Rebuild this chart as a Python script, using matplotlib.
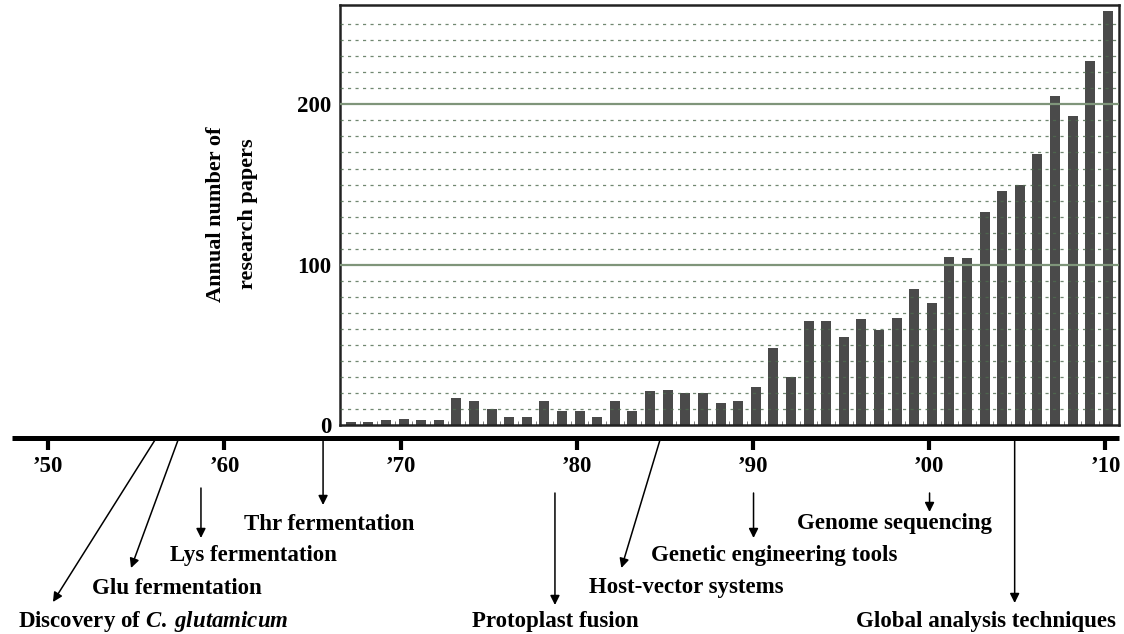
import matplotlib.pyplot as plt

plt.rcParams['font.family'] = ['Liberation Serif', 'DejaVu Serif']
plt.rcParams['font.weight'] = 'bold'
plt.rcParams['mathtext.fontset'] = 'custom'
plt.rcParams['mathtext.it'] = 'Liberation Serif:italic:bold'
plt.rcParams['mathtext.rm'] = 'Liberation Serif:bold'

# annual paper counts
years = list(range(1967, 2011))
papers = [2, 2, 3, 4, 3, 3, 17, 15, 10, 5, 5, 15, 9, 9, 5, 15, 9, 21, 22, 20,
          20, 14, 15, 24, 48, 30, 65, 65, 55, 66, 59, 67, 85, 76, 105, 104,
          133, 146, 150, 169, 205, 193, 227, 258]

decades = [1950, 1960, 1970, 1980, 1990, 2000, 2010]
decade_labels = ['\u201950', '\u201960', '\u201970', '\u201980', '\u201990',
                 '\u201900', '\u201910']

events = ['Discovery of $\\mathit{C.\\;glutamicum}$', 'Glu fermentation',
          'Lys fermentation', 'Thr fermentation', 'Protoplast fusion',
          'Host-vector systems', 'Genetic engineering tools',
          'Genome sequencing', 'Global analysis techniques']
event_years = [1956.06, 1957.37, 1958.67, 1965.6, 1978.76, 1984.72, 1990.03,
               2000.02, 2004.85]

# layout (timeline axes: x in years, y in pixels from top)
arrow_y0 = [440, 440, 488, 440, 493, 440, 493, 493, 440]
arrow_x1 = [1950.27, 1954.7, 1958.67, 1965.6, 1978.76, 1982.53, 1990.03,
            2000.02, 2004.85]
arrow_y1 = [602, 568, 538, 505, 605, 568, 538, 512, 603]
label_x = [1955.98, 1957.28, 1961.65, 1965.94, 1978.76, 1986.2, 1991.18,
           1998.02, 2003.2]
label_y = [621, 588, 555, 524, 621, 588, 555, 524, 621]


def main():
    fig = plt.figure(figsize=(11.24, 6.34), dpi=100)

    ax_t = fig.add_axes([0, 0, 1, 1])
    ax_t.set_xlim(1947.265, 2011.055)
    ax_t.set_ylim(634, 0)
    ax_t.axis('off')

    ax_t.plot([1947.95, 2010.75], [438, 438], color='black', lw=3.6,
              solid_capstyle='butt')
    for yr, lab in zip(decades, decade_labels):
        ax_t.plot([yr, yr], [438, 450], color='black', lw=3,
                  solid_capstyle='butt')
        ax_t.text(yr, 466, lab, ha='center', va='center', fontsize=16.5)

    for i, ev in enumerate(events):
        ax_t.annotate('', xy=(arrow_x1[i], arrow_y1[i]),
                      xytext=(event_years[i], arrow_y0[i]),
                      arrowprops=dict(arrowstyle='-|>', color='black', lw=1.1,
                                      mutation_scale=14, shrinkA=0, shrinkB=0))
        ax_t.text(label_x[i], label_y[i], ev, ha='center', va='center',
                  fontsize=16.5)

    ax = fig.add_axes([340 / 1124, 1 - 425 / 634, 779 / 1124, 420 / 634])
    ax.bar(years, papers, width=0.57, color='#4a4a4a', zorder=2)
    ax.set_xlim(1966.39, 2010.63)
    ax.set_ylim(0, 262)

    for v in range(10, 260, 10):
        if v % 100 == 0:
            ax.axhline(v, color='#7f957a', lw=1.6, zorder=3)
        else:
            ax.axhline(v, color='#4e6b4e', lw=0.9, dashes=(2.5, 3.5),
                       alpha=0.8, zorder=3)

    ax.set_yticks([0, 100, 200])
    ax.set_yticklabels(['0', '100', '200'], fontsize=16.5)
    ax.tick_params(axis='y', length=0, pad=6)
    ax.set_xticks([])
    ax.set_xticks([y + 0.5 for y in years[:-1]], minor=True)
    ax.tick_params(axis='x', which='minor', direction='in', length=3,
                   color='#666666')
    for sp in ax.spines.values():
        sp.set_linewidth(1.8)
        sp.set_color('#222222')

    fig.text(232 / 1124, 1 - 214 / 634, 'Annual number of\nresearch papers',
             rotation=90, ha='center', va='center', fontsize=16,
             multialignment='center', linespacing=1.75)

    fig.savefig('out.png', dpi=100)


if __name__ == '__main__':
    main()
